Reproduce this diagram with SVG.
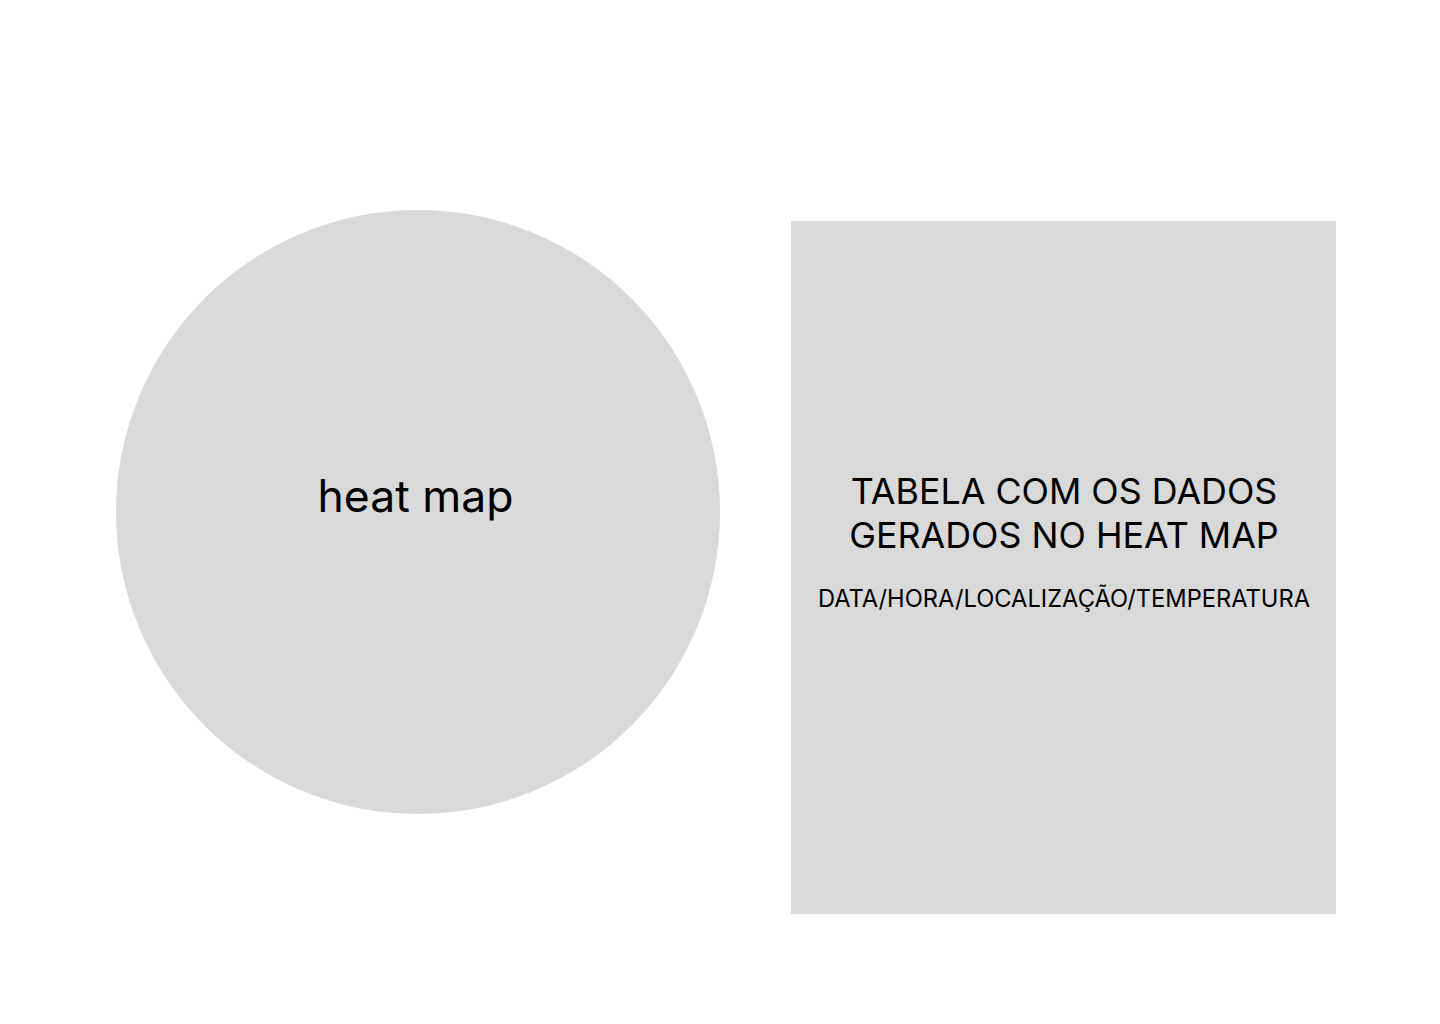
<svg xmlns="http://www.w3.org/2000/svg" width="1440" height="1024" viewBox="0 0 1440 1024">
<style>
.shape{fill:#d9d9d9;}
.t{font-family:Inter,"Noto Sans","Liberation Sans",sans-serif;fill:#000;text-anchor:middle;}
</style>
<rect width="1440" height="1024" fill="#fff"/>
<g id="heatmap">
<circle class="shape" cx="418" cy="512" r="302"/>
<text class="t" x="415.5" y="512" font-size="44.5">heat map</text>
</g>
<g id="tabela">
<rect class="shape" x="791" y="221" width="545" height="693"/>
<text class="t" x="1064" y="504" font-size="35.8">TABELA COM OS DADOS</text>
<text class="t" x="1064" y="548" font-size="35.8">GERADOS NO HEAT MAP</text>
<text class="t" x="1064" y="607" font-size="23.7">DATA/HORA/LOCALIZAÇÃO/TEMPERATURA</text>
</g>
<g id="connectors"></g>
</svg>
